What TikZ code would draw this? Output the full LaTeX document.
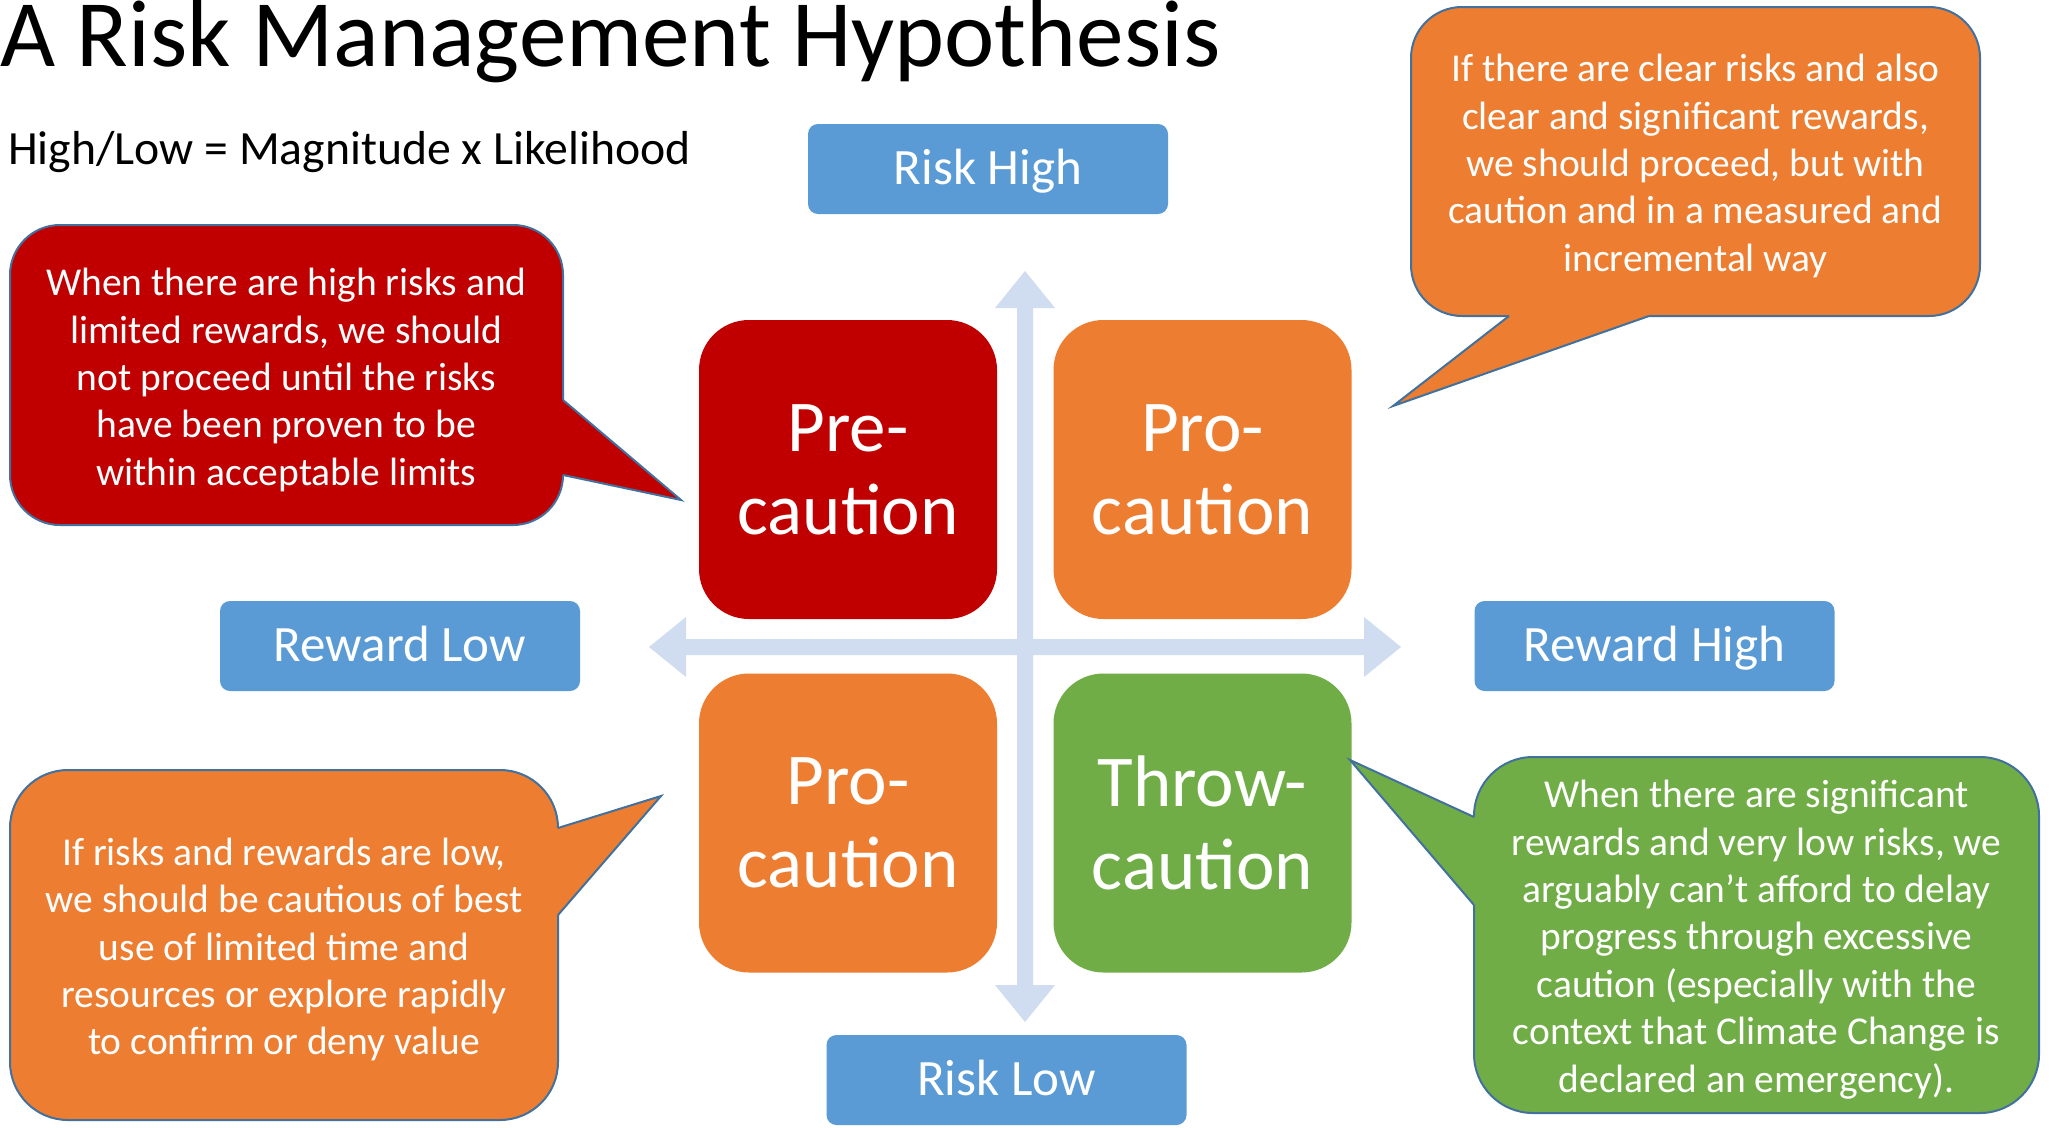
\documentclass[tikz,border=0pt]{standalone}
\usepackage{fontspec}
\setmainfont{Carlito}
\definecolor{cred}{RGB}{192,0,0}
\definecolor{corange}{RGB}{237,125,49}
\definecolor{cgreen}{RGB}{112,173,71}
\definecolor{cblue}{RGB}{91,155,213}
\definecolor{caxis}{RGB}{208,220,239}
\definecolor{cline}{RGB}{65,113,156}
\tikzset{
  quad/.style={rectangle, rounded corners=50pt, minimum width=298pt, minimum height=299pt, inner sep=0pt, text=white, align=center, font=\fontsize{73}{83}\selectfont},
  axislabel/.style={rectangle, rounded corners=10pt, fill=cblue, minimum width=360pt, minimum height=90pt, inner sep=0pt, text=white, text height=40pt, text depth=10pt, font=\fontsize{51}{61}\selectfont},
  bubble/.style={rectangle, draw=cline, line width=2pt, inner sep=0pt},
  bubbletext/.style={inner sep=0pt, text=white, align=center, font=\fontsize{39.5}{47.4}\selectfont},
  tailline/.style={draw=cline, line width=2pt, line join=miter},
}
\begin{document}
\begin{tikzpicture}[x=1pt,y=-1pt]
\fill[white] (0,0) rectangle (2049,1127);
\useasboundingbox (0,0) rectangle (2049,1127);

% title
\node[anchor=base west, inner sep=0pt, font=\fontsize{95.2}{114}\selectfont] (title) at (0,66) {A Risk Management Hypothesis};
\node[anchor=base west, inner sep=0pt, font=\fontsize{47.7}{57}\selectfont] (sub) at (8,164) {High/Low = Magnitude x Likelihood};

% axes (quad arrow)
\fill[caxis] (1025,271) -- (1055,308) -- (1033,308) -- (1033,639) -- (1364,639) -- (1364,617) -- (1401,647) -- (1364,677) -- (1364,655) -- (1033,655) -- (1033,985) -- (1055,985) -- (1025,1022) -- (995,985) -- (1017,985) -- (1017,655) -- (686,655) -- (686,677) -- (649,647) -- (686,617) -- (686,639) -- (1017,639) -- (1017,308) -- (995,308) -- cycle;

% axis labels
\node[axislabel] (riskhigh) at (988,169) {Risk High};
\node[axislabel] (rewardlow) at (400,646) {Reward Low};
\node[axislabel] (rewardhigh) at (1654.5,646) {Reward High};
\node[axislabel] (risklow) at (1006.5,1080) {Risk Low};

% quadrants
\node[quad, fill=cred] (pre) at (848,469.5) {Pre-\\caution};
\node[quad, fill=corange] (protr) at (1202.5,469.5) {Pro-\\caution};
\node[quad, fill=corange] (probl) at (848,823) {Pro-\\caution};
\node[quad, fill=cgreen] (throw) at (1202.5,823) {Throw-\\caution};

% bubbles
\node[bubble, fill=cred, minimum width=553pt, minimum height=300pt, rounded corners=50pt] (bred) at (286.5,375) {};
\fill[cred] (557,400) -- (563,400) -- (681,500) -- (563,475) -- (557,475) -- cycle;
\draw[tailline] (563,400) -- (681,500) -- (563,475);
\node[bubbletext] (bredtext) at ([yshift=-5pt]bred.center)
 {When there are high risks and\\limited rewards, we should\\not proceed until the risks\\have been proven to be\\within acceptable limits};

\node[bubble, fill=corange, minimum width=569pt, minimum height=309pt, rounded corners=51pt] (btr) at (1695.5,161.5) {};
\fill[corange] (1509,310) -- (1509,316) -- (1393,406) -- (1649,316) -- (1649,310) -- cycle;
\draw[tailline] (1509,316) -- (1393,406) -- (1649,316);
\node[bubbletext] (btrtext) at ([yshift=-4.5pt]btr.center)
 {If there are clear risks and also\\clear and significant rewards,\\we should proceed, but with\\caution and in a measured and\\incremental way};

\node[bubble, fill=corange, minimum width=548pt, minimum height=350pt, rounded corners=58pt] (bbl) at (284,945) {};
\fill[corange] (552,828) -- (558,828) -- (661,796) -- (558,915) -- (552,915) -- cycle;
\draw[tailline] (558,828) -- (661,796) -- (558,915);
\node[bubbletext] (bbltext) at ([yshift=-4.5pt]bbl.center)
 {If risks and rewards are low,\\we should be cautious of best\\use of limited time and\\resources or explore rapidly\\to confirm or deny value};

\node[bubble, fill=cgreen, minimum width=565pt, minimum height=356pt, rounded corners=59pt] (bgr) at (1756.5,935) {};
\fill[cgreen] (1480,817) -- (1474,817) -- (1350,760) -- (1474,905) -- (1480,905) -- cycle;
\draw[tailline] (1474,817) -- (1350,760) -- (1474,905);
\node[bubbletext] (bgrtext) at ([yshift=-4.5pt]bgr.center)
 {When there are significant\\rewards and very low risks, we\\arguably can’t afford to delay\\progress through excessive\\caution (especially with the\\context that Climate Change is\\declared an emergency).};
\end{tikzpicture}
\end{document}
